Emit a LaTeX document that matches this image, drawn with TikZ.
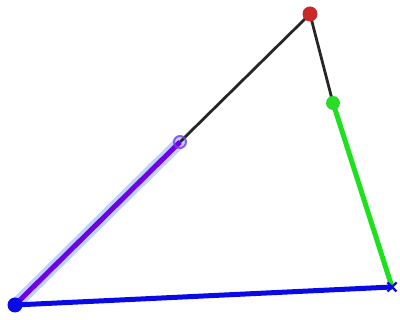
\documentclass[tikz,border=0pt]{standalone}
\usetikzlibrary{calc}
\definecolor{cred}{RGB}{200,40,40}
\definecolor{cgreen}{RGB}{40,220,40}
\definecolor{cgreenline}{RGB}{30,225,30}
\definecolor{cblue}{RGB}{10,10,230}
\definecolor{cpurple}{RGB}{110,0,230}
\definecolor{cpring}{RGB}{120,60,230}
\definecolor{chalo}{RGB}{190,210,250}
\begin{document}
\begin{tikzpicture}[x=1pt,y=-1pt,
  dotnode/.style={circle,inner sep=0pt,minimum size=#1},
  thin black/.style={draw=black!85,line width=2.8pt},
  thick seg/.style={line width=5pt}]
\useasboundingbox (0,0) rectangle (400,320);
\coordinate (A) at (15,305);
\coordinate (B) at (392,287);
\coordinate (G) at (333,103);
\coordinate (R) at (310,14);
\coordinate (P) at (180,142);
% halo
\draw[line width=12pt,chalo,line cap=round] (A) -- (P);
\draw[thin black] (P) -- (R);
\draw[thin black] (R) -- (G);
\draw[thick seg,cgreenline] (G) -- (B);
\draw[thick seg,cpurple] (A) -- (P);
\draw[thick seg,cblue] (A) -- (B);
\node[dotnode=15pt,fill=cred] (r) at (R) {};
\node[dotnode=14pt,fill=cgreen] (g) at (G) {};
\node[dotnode=15pt,fill=cblue] (a) at (A) {};
\node[dotnode=12pt,draw=cpring,line width=2pt,opacity=0.8] (p) at (P) {};
\draw[cblue,line width=2.2pt] ($(B)+(-4.5,-4.5)$) -- ($(B)+(4.5,4.5)$) ($(B)+(-4.5,4.5)$) -- ($(B)+(4.5,-4.5)$);
\end{tikzpicture}
\end{document}
